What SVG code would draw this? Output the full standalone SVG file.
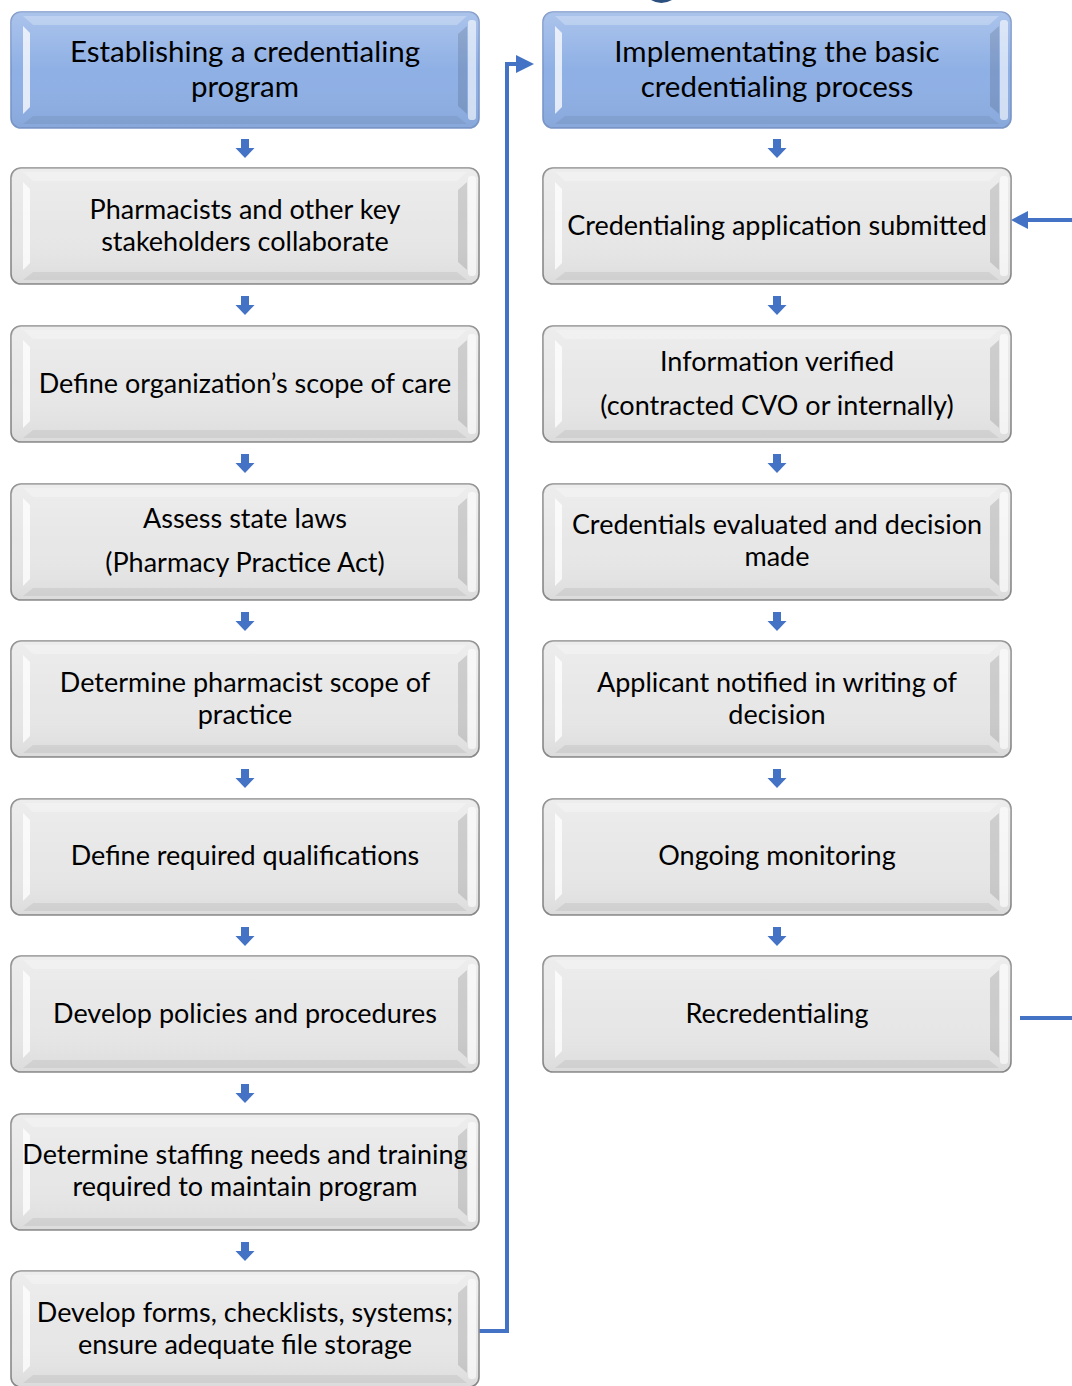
<svg xmlns="http://www.w3.org/2000/svg" xmlns:xlink="http://www.w3.org/1999/xlink" width="1072" height="1386" viewBox="0 0 1072 1386">
<style>
.box-gray{fill:#e7e7e7;stroke:#8a8a8a;stroke-width:1.6}
.box-blue{fill:#8fb0e5;stroke:#7b97c9;stroke-width:1.6}
.t{font-family:Lato,"Liberation Sans",sans-serif;font-size:27px;fill:#000;text-anchor:middle}
.tt{font-family:Lato,"Liberation Sans",sans-serif;font-size:29.5px;fill:#000;text-anchor:middle}
.conn{fill:none;stroke:#4472c4;stroke-width:4}
.head{fill:#4472c4}
</style>
<defs>
<linearGradient id="gshade" x1="0" y1="0" x2="0" y2="1">
<stop offset="0" stop-color="#ffffff" stop-opacity="0.25"/>
<stop offset="0.5" stop-color="#ffffff" stop-opacity="0"/>
<stop offset="1" stop-color="#000000" stop-opacity="0.05"/>
</linearGradient>
<g id="bevel">
<rect x="0" y="0" width="468" height="116" rx="10" fill="url(#gshade)"/>
<polygon points="12,4 456,4 446,13 22,13" fill="#ffffff" opacity="0.25"/>
<polygon points="12,14 19,21 19,95 12,102" fill="#ffffff" opacity="0.75"/>
<polygon points="456,14 447,22 447,94 456,102" fill="#000000" opacity="0.12"/>
<rect x="457" y="8" width="8" height="100" rx="3" fill="#ffffff" opacity="0.6"/>
<polygon points="22,104 446,104 456,112 12,112" fill="#000000" opacity="0.06"/>
</g>
<g id="dn">
<rect x="-4" y="0" width="8" height="9" fill="#4472c4"/>
<polygon points="-9.5,9 9.5,9 0,19" fill="#4472c4"/>
</g>
</defs>
<rect width="1072" height="1386" fill="#ffffff"/>
<path d="M651,0 Q661,6 672,0 Z" fill="#2b4f7e"/>

<g id="connectors">
<polyline class="conn" points="479,1331 507,1331 507,64 518,64"/>
<polygon class="head" points="516,55 534,64 516,73"/>
<line class="conn" x1="1075" y1="220" x2="1025" y2="220"/>
<polygon class="head" points="1028,211 1011,220 1028,229"/>
<line class="conn" x1="1020" y1="1018" x2="1075" y2="1018"/>
<use href="#dn" x="245" y="139"/>
<use href="#dn" x="245" y="296"/>
<use href="#dn" x="245" y="454"/>
<use href="#dn" x="245" y="612"/>
<use href="#dn" x="245" y="769"/>
<use href="#dn" x="245" y="927"/>
<use href="#dn" x="245" y="1084"/>
<use href="#dn" x="245" y="1242"/>
<use href="#dn" x="777" y="139"/>
<use href="#dn" x="777" y="296"/>
<use href="#dn" x="777" y="454"/>
<use href="#dn" x="777" y="612"/>
<use href="#dn" x="777" y="769"/>
<use href="#dn" x="777" y="927"/>
</g>

<g id="L1" transform="translate(11,12)"><rect class="box-blue" width="468" height="116" rx="10"/><use href="#bevel"/>
<text class="tt" x="234" y="50">Establishing a credentialing</text><text class="tt" x="234" y="85">program</text></g>
<g id="L2" transform="translate(11,168)"><rect class="box-gray" width="468" height="116" rx="10"/><use href="#bevel"/>
<text class="t" x="234" y="51">Pharmacists and other key</text><text class="t" x="234" y="83">stakeholders collaborate</text></g>
<g id="L3" transform="translate(11,326)"><rect class="box-gray" width="468" height="116" rx="10"/><use href="#bevel"/>
<text class="t" x="234" y="67">Define organization’s scope of care</text></g>
<g id="L4" transform="translate(11,484)"><rect class="box-gray" width="468" height="116" rx="10"/><use href="#bevel"/>
<text class="t" x="234" y="44">Assess state laws</text><text class="t" x="234" y="88">(Pharmacy Practice Act)</text></g>
<g id="L5" transform="translate(11,641)"><rect class="box-gray" width="468" height="116" rx="10"/><use href="#bevel"/>
<text class="t" x="234" y="51">Determine pharmacist scope of</text><text class="t" x="234" y="83">practice</text></g>
<g id="L6" transform="translate(11,799)"><rect class="box-gray" width="468" height="116" rx="10"/><use href="#bevel"/>
<text class="t" x="234" y="66">Define required qualifications</text></g>
<g id="L7" transform="translate(11,956)"><rect class="box-gray" width="468" height="116" rx="10"/><use href="#bevel"/>
<text class="t" x="234" y="67">Develop policies and procedures</text></g>
<g id="L8" transform="translate(11,1114)"><rect class="box-gray" width="468" height="116" rx="10"/><use href="#bevel"/>
<text class="t" x="234" y="50">Determine staffing needs and training</text><text class="t" x="234" y="82">required to maintain program</text></g>
<g id="L9" transform="translate(11,1271)"><rect class="box-gray" width="468" height="116" rx="10"/><use href="#bevel"/>
<text class="t" x="234" y="51">Develop forms, checklists, systems;</text><text class="t" x="234" y="83">ensure adequate file storage</text></g>

<g id="R1" transform="translate(543,12)"><rect class="box-blue" width="468" height="116" rx="10"/><use href="#bevel"/>
<text class="tt" x="234" y="50">Implementating the basic</text><text class="tt" x="234" y="85">credentialing process</text></g>
<g id="R2" transform="translate(543,168)"><rect class="box-gray" width="468" height="116" rx="10"/><use href="#bevel"/>
<text class="t" x="234" y="67">Credentialing application submitted</text></g>
<g id="R3" transform="translate(543,326)"><rect class="box-gray" width="468" height="116" rx="10"/><use href="#bevel"/>
<text class="t" x="234" y="45">Information verified</text><text class="t" x="234" y="89">(contracted CVO or internally)</text></g>
<g id="R4" transform="translate(543,484)"><rect class="box-gray" width="468" height="116" rx="10"/><use href="#bevel"/>
<text class="t" x="234" y="50">Credentials evaluated and decision</text><text class="t" x="234" y="82">made</text></g>
<g id="R5" transform="translate(543,641)"><rect class="box-gray" width="468" height="116" rx="10"/><use href="#bevel"/>
<text class="t" x="234" y="51">Applicant notified in writing of</text><text class="t" x="234" y="83">decision</text></g>
<g id="R6" transform="translate(543,799)"><rect class="box-gray" width="468" height="116" rx="10"/><use href="#bevel"/>
<text class="t" x="234" y="66">Ongoing monitoring</text></g>
<g id="R7" transform="translate(543,956)"><rect class="box-gray" width="468" height="116" rx="10"/><use href="#bevel"/>
<text class="t" x="234" y="67">Recredentialing</text></g>
</svg>
